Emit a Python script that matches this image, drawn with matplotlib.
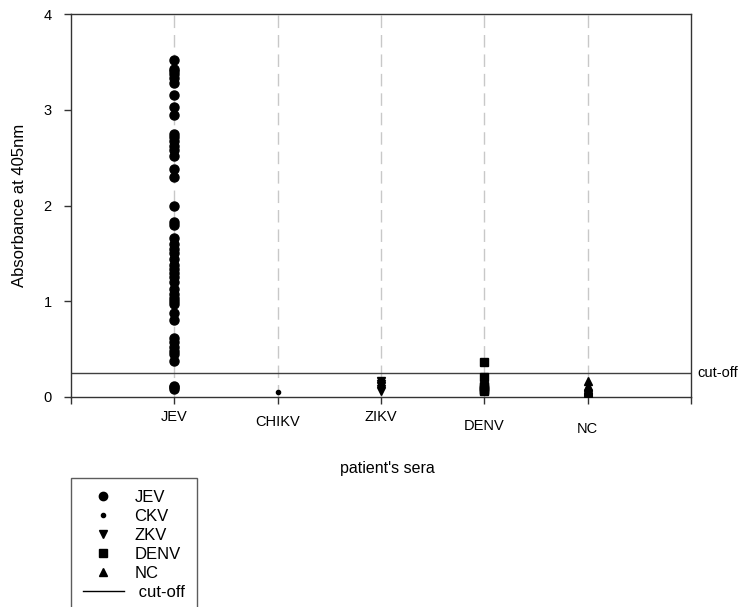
import numpy as np
import matplotlib
matplotlib.use("Agg")
import matplotlib.pyplot as plt
import matplotlib.transforms as mtransforms
from matplotlib.lines import Line2D

plt.rcParams['font.family'] = ['Liberation Sans', 'DejaVu Sans']

# categories on the x axis
categories = ["JEV", "CHIKV", "ZIKV", "DENV", "NC"]
label_drop = [20, 25, 20, 29, 32]   # staggered tick labels (px below axis)

# absorbance values
jev = [3.52, 3.43, 3.40, 3.37, 3.33, 3.28, 3.15, 3.03, 2.95, 2.75, 2.72,
       2.67, 2.62, 2.58, 2.52, 2.38, 2.30, 1.99, 1.83, 1.80, 1.66, 1.60,
       1.55, 1.50, 1.44, 1.38, 1.34, 1.30, 1.25, 1.20, 1.13, 1.08, 1.03,
       1.00, 0.97, 0.88, 0.80, 0.62, 0.57, 0.52, 0.48, 0.45, 0.38, 0.12,
       0.10, 0.08]
chikv = [0.05]
zikv = [0.17, 0.14, 0.11, 0.08, 0.06]
denv = [0.37, 0.21, 0.12, 0.10, 0.08, 0.07, 0.06]
nc = [0.17, 0.12, 0.10, 0.08, 0.07, 0.06, 0.05, 0.04]
cutoff = 0.25

W, H = 747, 607
fig = plt.figure(figsize=(W / 100, H / 100), dpi=100)
ax = fig.add_axes([71 / W, 1 - 397 / H, (691 - 71) / W, (397 - 14) / H])

for x in range(1, 6):
    ax.axvline(x, color='#c8c8c8', lw=1, ls=(0, (9, 5)), zorder=0)

ax.axhline(cutoff, color='#404040', lw=1, zorder=1)

series = [(jev, 'o', 6.5), (chikv, 'o', 3), (zikv, 'v', 6), (denv, 's', 6), (nc, '^', 6)]
for i, (vals, mk, ms) in enumerate(series):
    ax.plot([i + 1] * len(vals), vals, ls='none', marker=mk, ms=ms,
            color='black', zorder=3)

ax.set_xlim(0, 6)
ax.set_ylim(0, 4)
ax.set_yticks([0, 1, 2, 3, 4])
ax.set_xticks(range(0, 7))
ax.set_xticklabels([])
ax.tick_params(direction='out', length=5, width=1, colors='#333333', labelsize=10.5,
               labelcolor='black')
ax.tick_params(axis='y', pad=9)
for sp in ax.spines.values():
    sp.set_color('#333333')
    sp.set_linewidth(1)

trans = mtransforms.blended_transform_factory(ax.transData, ax.transAxes)
for i, (lab, d) in enumerate(zip(categories, label_drop)):
    off = mtransforms.ScaledTranslation(0, -d / 100, fig.dpi_scale_trans)
    ax.text(i + 1, 0, lab, transform=trans + off, ha='center', va='center',
            fontsize=10.5)

ax.text(1.01, cutoff / 4, "cut-off", transform=ax.transAxes, ha='left',
        va='center', fontsize=10.5)

ax.set_ylabel("Absorbance at 405nm", fontsize=12, labelpad=12)
fig.text(387 / W, 1 - 469 / H, "patient's sera", ha='center', va='center',
         fontsize=11.5)

handles = [
    Line2D([], [], ls='none', marker='o', ms=6, color='black'),
    Line2D([], [], ls='none', marker='o', ms=3, color='black'),
    Line2D([], [], ls='none', marker='v', ms=6, color='black'),
    Line2D([], [], ls='none', marker='s', ms=6, color='black'),
    Line2D([], [], ls='none', marker='^', ms=6, color='black'),
    Line2D([], [], color='black', lw=1),
]
labels = ["JEV", "CKV", "ZKV", "DENV", "NC", " cut-off"]
leg = fig.legend(handles, labels, loc='upper left',
                 bbox_to_anchor=(71 / W, 1 - 478 / H), fontsize=12,
                 frameon=True, fancybox=False, handlelength=2.5,
                 labelspacing=0.24, borderpad=0.7, handletextpad=0.6,
                 borderaxespad=0)
leg.get_frame().set_edgecolor('#333333')
leg.get_frame().set_linewidth(1)

fig.savefig("out.png", dpi=100)
